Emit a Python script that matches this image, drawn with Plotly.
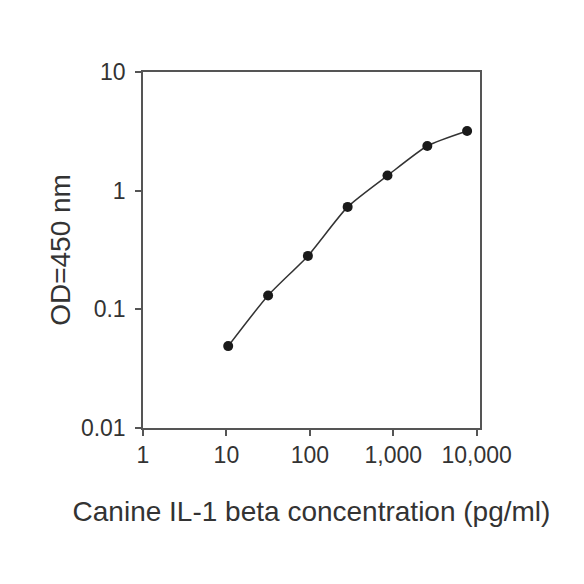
import plotly.graph_objects as go

# standard curve readings
concentration = [10.5, 31.6, 94.8, 284, 853, 2560, 7680]
od_450 = [0.049, 0.131, 0.282, 0.73, 1.34, 2.38, 3.18]

x_tickvals = [1, 10, 100, 1000, 10000]
x_ticktext = ["1", "10", "100", "1,000", "10,000"]
y_tickvals = [0.01, 0.1, 1, 10]
y_ticktext = ["0.01", "0.1", "1", "10"]

fig = go.Figure()
fig.add_trace(go.Scatter(
    x=concentration, y=od_450,
    mode="lines+markers",
    line=dict(color="#333333", width=1.5, shape="spline", smoothing=0.6),
    marker=dict(color="#1a1a1a", size=10),
    showlegend=False,
))

axis_font = dict(family="Liberation Sans, Arial, sans-serif", size=23, color="#333333")
title_font = dict(family="Liberation Sans, Arial, sans-serif", size=28, color="#333333")

fig.update_xaxes(
    type="log", range=[0, 4.04],
    tickvals=x_tickvals, ticktext=x_ticktext,
    ticks="outside", ticklen=6, tickwidth=1.5, tickcolor="#555555",
    showline=True, linecolor="#555555", linewidth=1.5, mirror=True,
    showgrid=False, zeroline=False,
    tickfont=axis_font,
    title=dict(text="Canine IL-1 beta concentration (pg/ml)", font=title_font, standoff=34),
)
fig.update_yaxes(
    type="log", range=[-2, 1],
    tickvals=y_tickvals, ticktext=y_ticktext,
    ticks="outside", ticklen=6, tickwidth=1.5, tickcolor="#555555",
    showline=True, linecolor="#555555", linewidth=1.5, mirror=True,
    showgrid=False, zeroline=False,
    tickfont=axis_font, ticklabelstandoff=5,
    title=dict(text="OD=450 nm", font=title_font, standoff=2),
)

fig.update_layout(
    width=584, height=584,
    margin=dict(l=135, r=112, t=64, b=164),
    plot_bgcolor="white", paper_bgcolor="white",
)

fig.write_html("out.html")
